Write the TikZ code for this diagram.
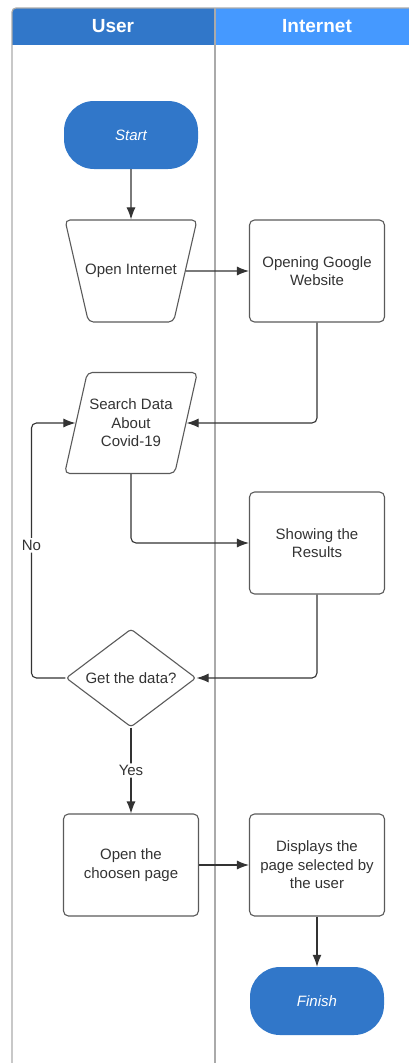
\documentclass[tikz,border=0pt]{standalone}
\usepackage{fontspec}
\setmainfont{Liberation Sans}
\usetikzlibrary{shapes,arrows,arrows.meta}
\definecolor{userblue}{HTML}{3177C9}
\definecolor{netblue}{HTML}{4599FF}
\definecolor{inkgray}{HTML}{333333}
\definecolor{edgegray}{HTML}{5A5A5A}
\definecolor{lanegray}{HTML}{AAAAAA}
\newcommand{\boxfont}{\fontsize{15}{18.5}\selectfont}
\tikzstyle{process} = [rectangle, draw=edgegray, line width=1.1pt, text=inkgray,
    font=\boxfont, align=center, rounded corners=5pt, minimum width=135pt, minimum height=102pt]
\tikzstyle{terminal} = [rectangle, fill=userblue, text=white, font=\boxfont\itshape,
    rounded corners=30pt, minimum width=134pt, minimum height=68pt]
\tikzstyle{manual} = [trapezium, shape border rotate=180, trapezium angle=77,
    trapezium stretches body, draw=edgegray, line width=1.1pt, text=inkgray, font=\boxfont,
    inner xsep=-5pt, inner ysep=44pt, rounded corners=5pt, minimum width=132pt, minimum height=102pt]
\tikzstyle{io} = [trapezium, trapezium left angle=77, trapezium right angle=103,
    trapezium stretches body, draw=edgegray, line width=1.1pt, text=inkgray, font=\boxfont,
    align=center, inner xsep=2pt, inner ysep=25pt, rounded corners=5pt, minimum width=132pt, minimum height=101pt]
\tikzstyle{decision} = [diamond, aspect=1.33, draw=edgegray, line width=1.1pt, text=inkgray,
    font=\boxfont, inner sep=0pt, rounded corners=3pt, minimum width=130pt, minimum height=98pt]
\tikzstyle{lanehead} = [text=white, font=\bfseries\fontsize{19}{22}\selectfont]
\tikzstyle{edgetext} = [fill=white, text=inkgray, font=\boxfont, inner sep=2pt]
\tikzstyle{line} = [draw=inkgray, line width=1.1pt, rounded corners=5pt,
    -{Latex[length=12pt,width=9pt]}]

\begin{document}
\begin{tikzpicture}[x=1pt, y=-1pt]
        \useasboundingbox (0,0) rectangle (409,1063);
        % Lanes
        \begin{scope}
            \clip[rounded corners=4pt] (12,8) rectangle (430,1090);
            \fill[userblue] (12,8) rectangle (215,45);
            \fill[netblue] (215,8) rectangle (430,45);
        \end{scope}
        \draw[lanegray, line width=1.2pt, rounded corners=4pt] (12,1090) -- (12,8) -- (430,8);
        \draw[lanegray, line width=1.5pt] (215,8) -- (215,1063);
        \node (userhead) [lanehead] at (113,26.5) {User};
        \node (nethead) [lanehead] at (317,26.5) {Internet};

        % Place nodes
        \node (start) [terminal] at (131,135) {Start};
        \path (start)+(0,136) node (open) [manual] {Open Internet};
        \path [line] (start.south) -- (open.north);
        \path (open)+(186,0) node (google) [process] {Opening Google\\Website};
        \path [line] (open.east) -- (google.west);
        \path (open)+(0,152) node (search) [io] {Search Data\\About\\Covid-19};
        \path [line] (google.south) |- (search.east);
        \path (search)+(186,120) node (results) [process] {Showing the\\Results};
        \path [line] (search.center |- search.south) |- (results.west);
        \path (search)+(0,255) node (check) [decision] {Get the data?};
        \path [line] (results.south) |- (check.east);
        \path [line] (check.west) -- ++(-34,0) |- node[edgetext, pos=0.26] {No} (search.west);

        %Open page
        \path (check)+(0,187) node (page) [process] {Open the\\choosen page};
        \path [line] (check.south) -- node[edgetext] {Yes} (page.north);
        \path (page)+(186,0) node (display) [process] {Displays the\\page selected by\\the user};
        \path [line] (page.east) -- (display.west);
        \path (display)+(0,136) node (finish) [terminal] {Finish};
        \path [line] (display.south) -- (finish.north);
    \end{tikzpicture}
\end{document}
